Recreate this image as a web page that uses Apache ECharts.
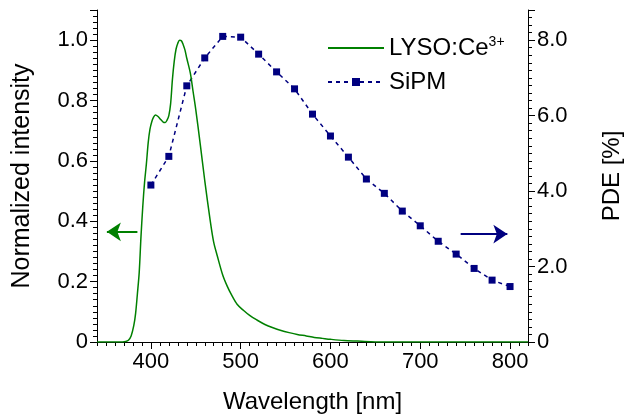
<!DOCTYPE html>
<html>
<head>
<meta charset="utf-8">
<script src="https://cdn.jsdelivr.net/npm/echarts@6/dist/echarts.min.js"></script>
<style>
  html, body { margin: 0; padding: 0; background: #fff; }
  #main { width: 625px; height: 420px; }
</style>
</head>
<body>
<div id="main"></div>
<script>
// LYSO:Ce 发射谱 (归一化)
var lysoWl = [340, 365, 372, 375, 378, 381, 383, 385, 387, 389, 391, 393, 395, 397, 399, 401, 403, 405, 408, 411, 414, 416, 418, 420, 422, 424, 426, 428, 430, 432, 434, 436, 438, 440, 444, 447, 450, 455, 460, 466, 470, 474, 480, 485, 490, 496, 503, 510, 518, 527, 536, 545, 554, 563, 573, 582, 591, 600, 615, 630, 645, 660, 820];
var lysoInt = [0, 0, 0.002, 0.006, 0.02, 0.055, 0.095, 0.16, 0.23, 0.35, 0.45, 0.53, 0.59, 0.66, 0.705, 0.73, 0.745, 0.752, 0.747, 0.737, 0.728, 0.727, 0.735, 0.75, 0.79, 0.87, 0.93, 0.97, 0.99, 1.0, 0.998, 0.985, 0.967, 0.94, 0.89, 0.83, 0.77, 0.655, 0.535, 0.404, 0.33, 0.285, 0.222, 0.185, 0.155, 0.125, 0.105, 0.088, 0.073, 0.058, 0.047, 0.038, 0.031, 0.025, 0.02, 0.015, 0.012, 0.009, 0.005, 0.003, 0.001, 0, 0];

// SiPM 光子探测效率 PDE [%]
var sipmWl = [400, 420, 440, 460, 480, 500, 520, 540, 560, 580, 600, 620, 640, 660, 680, 700, 720, 740, 760, 780, 800];
var sipmPde = [4.16, 4.92, 6.79, 7.53, 8.10, 8.08, 7.63, 7.16, 6.71, 6.04, 5.46, 4.90, 4.32, 3.94, 3.47, 3.08, 2.67, 2.33, 1.95, 1.64, 1.47];

// x轴刻度标签 (每10nm一个, 只显示100的倍数)
var xTicks = [];
for (var w = 340; w <= 820; w += 10) { xTicks.push(String(w)); }

// 指示箭头 [起点, 终点]
var leftArrow = [[385, 0.365], [351, 0.365]];
var rightArrow = [[745, 2.86], [797, 2.86]];

var green = '#008000';
var navy = '#000080';
var font = 'Liberation Sans, Arial, sans-serif';

function pairs(xs, ys) {
    return xs.map(function (x, i) { return [x, ys[i]]; });
}
function fmt(v) {
    return v === 0 ? '0' : v.toFixed(1);
}
function isMajor(index, value) {
    return Number(value) % 100 === 0;
}

var myChart = echarts.init(document.getElementById('main'));

var option = {
    animation: false,
    grid: { left: 97, right: 97, top: 10, bottom: 78, outerBoundsMode: 'none' },
    legend: {
        left: 322,
        top: 30,
        orient: 'vertical',
        itemWidth: 56,
        itemHeight: 10,
        itemGap: 10,
        textStyle: {
            fontFamily: font,
            fontSize: 24,
            color: '#000',
            rich: {
                a: { fontFamily: font, fontSize: 24, color: '#000' },
                s: { fontFamily: font, fontSize: 14, color: '#000', verticalAlign: 'top', padding: [0, 0, 12, 0] }
            }
        },
        formatter: function (name) {
            if (name === 'LYSO:Ce3+') return '{a|LYSO:Ce}{s|3+}';
            return name;
        },
        // 绿色曲线图例只要线, 不要圆点
        data: [{ name: 'LYSO:Ce3+', itemStyle: { opacity: 0 } }, 'SiPM']
    },
    xAxis: [
        {
            type: 'value',
            min: 340,
            max: 820,
            interval: 10,
            name: 'Wavelength [nm]',
            nameLocation: 'middle',
            nameGap: 48,
            nameTextStyle: { fontFamily: font, fontSize: 24, color: '#000' },
            axisLine: { show: true, lineStyle: { color: '#000', width: 1 } },
            axisTick: { show: true, length: 4, lineStyle: { color: '#000' } },
            axisLabel: { show: false },
            splitLine: { show: false }
        },
        {
            type: 'category',
            position: 'bottom',
            boundaryGap: false,
            data: xTicks,
            axisLine: { show: false },
            axisTick: { show: true, length: 7, interval: isMajor, lineStyle: { color: '#000' } },
            axisLabel: { interval: isMajor, fontFamily: font, fontSize: 22, color: '#000', margin: 9 },
            splitLine: { show: false }
        }
    ],
    yAxis: [
        {
            type: 'value',
            min: 0,
            max: 1.1,
            interval: 0.2,
            position: 'left',
            name: 'Normalized intensity',
            nameLocation: 'middle',
            nameGap: 62,
            nameTextStyle: { fontFamily: font, fontSize: 25, color: '#000' },
            axisLine: { show: true, lineStyle: { color: '#000', width: 1 } },
            axisTick: { show: true, length: 7, lineStyle: { color: '#000' } },
            minorTick: { show: true, splitNumber: 10, length: 4, lineStyle: { color: '#000' } },
            axisLabel: { formatter: fmt, showMaxLabel: false, fontFamily: font, fontSize: 22, color: '#000', margin: 9 },
            splitLine: { show: false }
        },
        {
            type: 'value',
            min: 0,
            max: 8.8,
            interval: 2,
            position: 'right',
            name: 'PDE [%]',
            nameLocation: 'middle',
            nameGap: 72,
            nameRotate: 90,
            nameTextStyle: { fontFamily: font, fontSize: 24, color: '#000' },
            axisLine: { show: true, lineStyle: { color: '#000', width: 1 } },
            axisTick: { show: true, length: 7, lineStyle: { color: '#000' } },
            minorTick: { show: true, splitNumber: 10, length: 4, lineStyle: { color: '#000' } },
            axisLabel: { formatter: fmt, showMaxLabel: false, fontFamily: font, fontSize: 22, color: '#000', margin: 9 },
            splitLine: { show: false }
        }
    ],
    series: [
        {
            name: 'SiPM',
            type: 'line',
            xAxisIndex: 0,
            yAxisIndex: 1,
            data: pairs(sipmWl, sipmPde),
            symbol: 'rect',
            symbolSize: 7,
            itemStyle: { color: navy },
            lineStyle: { color: navy, width: 1.5, type: [4, 4] },
            markLine: {
                silent: true,
                symbol: ['none', 'arrow'],
                symbolSize: 14,
                label: { show: false },
                lineStyle: { color: navy, width: 2, type: 'solid' },
                data: [[{ coord: rightArrow[0] }, { coord: rightArrow[1] }]]
            },
            z: 2
        },
        {
            name: 'LYSO:Ce3+',
            type: 'line',
            xAxisIndex: 0,
            yAxisIndex: 0,
            data: pairs(lysoWl, lysoInt),
            symbol: 'none',
            smooth: 0.3,
            itemStyle: { color: green },
            lineStyle: { color: green, width: 1.5 },
            markLine: {
                silent: true,
                symbol: ['none', 'arrow'],
                symbolSize: 14,
                label: { show: false },
                lineStyle: { color: green, width: 2, type: 'solid' },
                data: [[{ coord: leftArrow[0] }, { coord: leftArrow[1] }]]
            },
            z: 3
        }
    ]
};

myChart.setOption(option);
</script>
</body>
</html>
